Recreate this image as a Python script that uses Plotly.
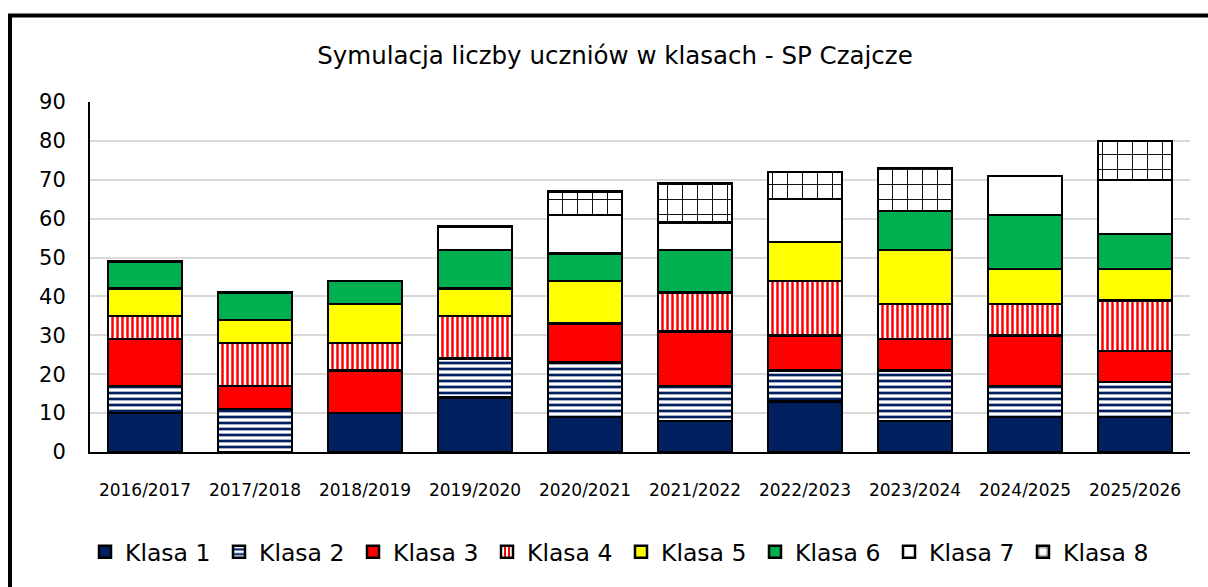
import plotly.graph_objects as go

years = ["2016/2017", "2017/2018", "2018/2019", "2019/2020", "2020/2021",
         "2021/2022", "2022/2023", "2023/2024", "2024/2025", "2025/2026"]
series_names = ["Klasa 1", "Klasa 2", "Klasa 3", "Klasa 4",
                "Klasa 5", "Klasa 6", "Klasa 7", "Klasa 8"]
klasa1 = [10, 0, 10, 14, 9, 8, 13, 8, 9, 9]
klasa2 = [7, 11, 0, 10, 14, 9, 8, 13, 8, 9]
klasa3 = [12, 6, 11, 0, 10, 14, 9, 8, 13, 8]
klasa4 = [6, 11, 7, 11, 0, 10, 14, 9, 8, 13]
klasa5 = [7, 6, 10, 7, 11, 0, 10, 14, 9, 8]
klasa6 = [7, 7, 6, 10, 7, 11, 0, 10, 14, 9]
klasa7 = [0, 0, 0, 6, 10, 7, 11, 0, 10, 14]
klasa8 = [0, 0, 0, 0, 6, 10, 7, 11, 0, 10]
y_ticks = [0, 10, 20, 30, 40, 50, 60, 70, 80, 90]

values = [klasa1, klasa2, klasa3, klasa4, klasa5, klasa6, klasa7, klasa8]

NAVY = "#002060"
styles = [
    dict(color=NAVY),
    dict(color="white", pattern=dict(shape="-", fgcolor=NAVY, bgcolor="white",
                                      size=6, solidity=0.45, fillmode="replace")),
    dict(color="#FF0000"),
    dict(color="white", pattern=dict(shape="|", fgcolor="#FF0000", bgcolor="white",
                                      size=5, solidity=0.5, fillmode="replace")),
    dict(color="#FFFF00"),
    dict(color="#00B050"),
    dict(color="white"),
    dict(color="white", pattern=dict(shape="+", fgcolor="black", bgcolor="white",
                                      size=15, solidity=0.12, fillmode="replace")),
]

FONT = "DejaVu Sans"

fig = go.Figure()
for name, vals, st in zip(series_names, values, styles):
    marker = dict(line=dict(color="black", width=2.5), **st)
    fig.add_trace(go.Bar(x=years, y=vals, name=name, marker=marker))

L, R, T, B = 90, 18, 102, 135
W, H = 1208, 587
pw, ph = W - L - R, H - T - B

def px_x(x):
    return (x - L) / pw

def px_y(y):
    return (H - B - y) / ph

fig.update_layout(
    width=W, height=H,
    barmode="stack",
    bargap=0.33,
    margin=dict(l=L, r=R, t=T, b=B),
    paper_bgcolor="white",
    plot_bgcolor="white",
    font=dict(family=FONT, color="black"),
    title=dict(text="Symulacja liczby uczniów w klasach - SP Czajcze",
               x=615 / W, xanchor="center", y=1 - 55 / H, yanchor="middle",
               font=dict(size=24.5, family=FONT, color="black")),
    showlegend=True,
    legend=dict(orientation="h", x=px_x(85), xanchor="left",
                y=px_y(552), yanchor="middle",
                font=dict(size=23.5, family=FONT, color="black"),
                traceorder="normal", entrywidth=89, entrywidthmode="pixels"),
    xaxis=dict(showline=True, linecolor="black", linewidth=2,
               tickfont=dict(size=17, family=FONT, color="black"),
               ticklabelstandoff=22, showgrid=False),
    yaxis=dict(range=[0, 90], tickvals=y_ticks, showline=True, linecolor="black",
               linewidth=2, showgrid=True, gridcolor="#d9d9d9", gridwidth=2,
               tickfont=dict(size=21, family=FONT, color="black"),
               ticklabelstandoff=18, zeroline=False),
    shapes=[dict(type="rect", xref="paper", yref="paper",
                 x0=px_x(10), x1=px_x(1230), y0=px_y(620), y1=px_y(15.5),
                 line=dict(color="black", width=4), fillcolor="rgba(0,0,0,0)",
                 layer="below")],
)

fig.write_html("out.html", post_script="document.body.style.margin='0';",
               config={"displayModeBar": False})
